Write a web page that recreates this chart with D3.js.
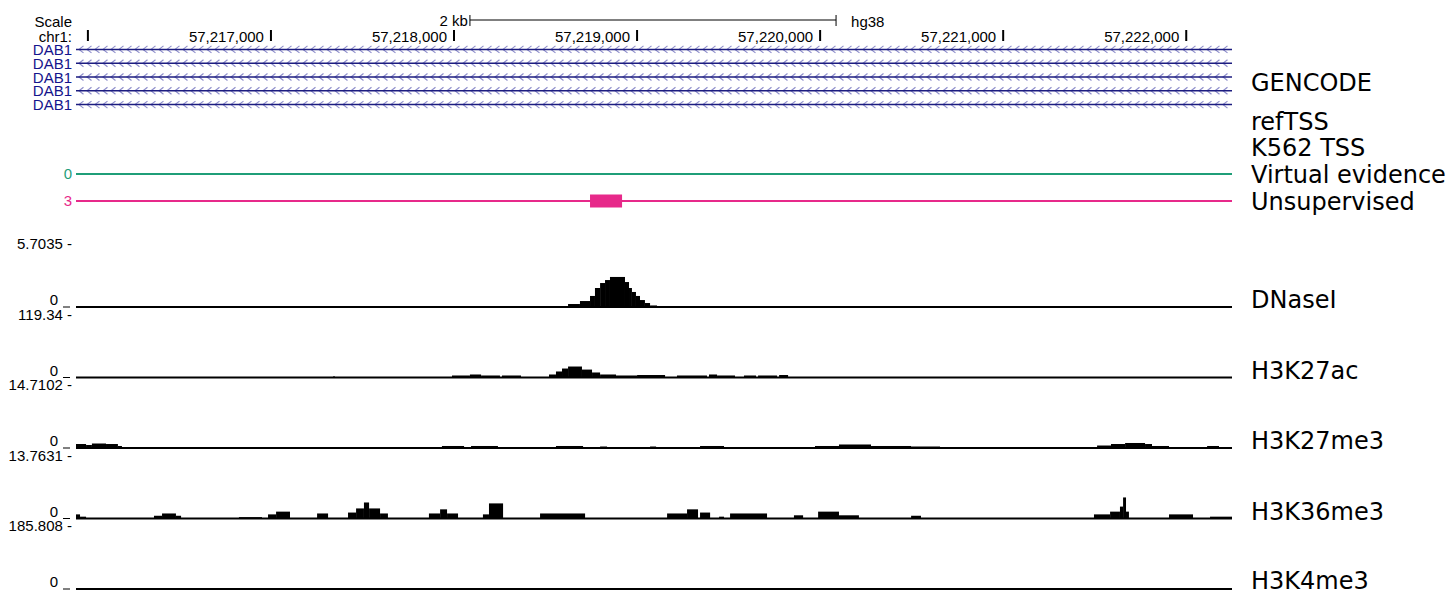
<!doctype html>
<html>
<head>
<meta charset="utf-8">
<title>DAB1 region, hg38</title>
<script src="https://d3js.org/d3.v7.min.js"></script>
<style>
body { margin: 0; background: #fff; }
svg text { font-family: "Liberation Sans", Arial, Helvetica, sans-serif; font-size: 15px; }
svg text.tracklabel { font-family: "DejaVu Sans", sans-serif; font-size: 24px; }
</style>
</head>
<body>
<svg id="browser"></svg>
<script>
// window shown (chr1, hg38)
var viewStart = 57215935, viewEnd = 57222250;

var rulerTicks = [57216000, 57217000, 57218000, 57219000, 57220000, 57221000, 57222000];
var rulerLabels = ["", "57,217,000", "57,218,000", "57,219,000", "57,220,000", "57,221,000", "57,222,000"];
var scaleBar = [57218087, 57220087];

var geneNames = ["DAB1", "DAB1", "DAB1", "DAB1", "DAB1"];

// feature tracks: features as [start, end] in bp from viewStart
var virtualEvidence = [];
var unsupervised = [[2808, 2983]];

// signal tracks: [start, end, value], start/end in bp from viewStart
var trackNames = ["DNaseI", "H3K27ac", "H3K27me3", "H3K36me3", "H3K4me3"];
var trackMax = [5.7035, 119.34, 14.7102, 13.7631, 185.808];
var trackMaxLabels = ["5.7035", "119.34", "14.7102", "13.7631", "185.808"];

var dnase = [[2606, 2688, 0.09], [2688, 2753, 0.27], [2753, 2808, 0.54], [2808, 2835, 1.0],
  [2835, 2863, 1.72], [2863, 2890, 2.17], [2890, 2917, 2.44], [2917, 2999, 2.72],
  [2999, 3021, 2.26], [3021, 3037, 1.72], [3037, 3059, 1.36], [3059, 3081, 1.0],
  [3081, 3108, 0.63], [3108, 3136, 0.36], [3136, 3174, 0.14]];

var h3k27ac = [[1404, 1415, 2], [2054, 2152, 3.8], [2152, 2213, 5.7], [2213, 2316, 3.8],
  [2327, 2431, 3.8], [2584, 2622, 5.7], [2622, 2655, 11.4], [2655, 2688, 17],
  [2688, 2764, 20.8], [2764, 2819, 15], [2819, 2863, 9.5], [2863, 2950, 5.7],
  [2950, 3065, 3.8], [3065, 3218, 4.7], [3283, 3447, 3.8], [3458, 3502, 5.7],
  [3502, 3600, 3.8], [3649, 3715, 3.8], [3726, 3830, 3.8], [3841, 3890, 4.7]];

var h3k27me3 = [[0, 55, 0.93], [55, 87, 0.7], [87, 164, 1.05], [164, 229, 0.93], [229, 251, 0.47],
  [1999, 2120, 0.47], [2158, 2305, 0.47], [2622, 2770, 0.47], [2863, 2901, 0.35],
  [3136, 3169, 0.35], [3409, 3540, 0.47], [4037, 4168, 0.47], [4168, 4343, 0.82],
  [4343, 4562, 0.47], [4562, 4720, 0.35], [5578, 5654, 0.58], [5654, 5731, 0.93],
  [5731, 5840, 1.17], [5840, 5878, 0.93], [5878, 5971, 0.47], [6179, 6244, 0.47]];

var h3k36me3 = [[0, 22, 0.9], [22, 55, 0.4], [426, 470, 0.6], [470, 546, 1.1], [546, 574, 0.6],
  [890, 1016, 0.3], [1049, 1093, 0.9], [1093, 1169, 1.5], [1317, 1377, 1.1],
  [1486, 1530, 1.3], [1530, 1573, 2.2], [1573, 1601, 3.5], [1601, 1661, 2.2], [1661, 1704, 1.1],
  [1928, 1989, 1.1], [1989, 2027, 2.0], [2027, 2087, 1.1], [2223, 2256, 0.9], [2256, 2333, 3.3],
  [2535, 2781, 1.1], [3229, 3338, 1.1], [3338, 3398, 2.0], [3409, 3464, 1.3], [3513, 3540, 0.4],
  [3573, 3775, 1.1], [3922, 3972, 0.7], [4054, 4168, 1.5], [4168, 4277, 0.7], [4562, 4616, 0.6],
  [5561, 5649, 0.9], [5649, 5703, 1.5], [5703, 5720, 2.6], [5720, 5736, 4.6], [5736, 5752, 1.5],
  [5971, 6102, 0.9], [6195, 6315, 0.4]];

var h3k4me3 = [];

var trackData = [dnase, h3k27ac, h3k27me3, h3k36me3, h3k4me3];

var width = 1453, height = 590,
    plotLeft = 76, plotRight = 1232, labelX = 1251, leftLabelX = 72;

var svg = d3.select("#browser")
    .attr("width", width)
    .attr("height", height)
    .style("display", "block");

var x = d3.scaleLinear()
    .domain([viewStart, viewEnd])
    .range([plotLeft, plotRight]);

// ---- ruler ----
var ruler = svg.append("g");
ruler.append("text").attr("x", leftLabelX).attr("y", 27).attr("text-anchor", "end").text("Scale");
ruler.append("text").attr("x", leftLabelX).attr("y", 42).attr("text-anchor", "end").text("chr1:");

ruler.append("line")
    .attr("x1", x(scaleBar[0])).attr("x2", x(scaleBar[1]))
    .attr("y1", 20).attr("y2", 20)
    .attr("stroke", "#000").attr("stroke-width", 1);
ruler.selectAll(".cap").data(scaleBar).enter().append("line")
    .attr("x1", d => x(d)).attr("x2", d => x(d))
    .attr("y1", 15).attr("y2", 26)
    .attr("stroke", "#000").attr("stroke-width", 1);
ruler.append("text").attr("x", x(scaleBar[0]) - 2).attr("y", 26).attr("text-anchor", "end").text("2 kb");
ruler.append("text").attr("x", x(scaleBar[1]) + 15).attr("y", 27).text("hg38");

var tick = ruler.selectAll(".rtick").data(rulerTicks).enter().append("g");
tick.append("line")
    .attr("x1", d => x(d)).attr("x2", d => x(d))
    .attr("y1", 30).attr("y2", 41)
    .attr("stroke", "#000").attr("stroke-width", 2);
tick.append("text")
    .attr("x", d => x(d) - 7).attr("y", 42)
    .attr("text-anchor", "end")
    .text((d, i) => rulerLabels[i]);

// ---- gene rows ----
var geneRow = d3.scaleBand().domain(d3.range(geneNames.length)).range([42.5, 111.5]);
var chevrons = d3.range(plotLeft + 5, plotRight, 8);

var genes = svg.selectAll(".gene").data(geneNames).enter().append("g")
    .attr("transform", (d, i) => `translate(0, ${geneRow(i) + geneRow.bandwidth() / 2})`);
genes.append("text")
    .attr("x", leftLabelX).attr("y", 5.5)
    .attr("text-anchor", "end")
    .attr("fill", "#14148c")
    .text(d => d);
genes.selectAll("path").data(chevrons).enter().append("path")
    .attr("d", d => `M${d + 2.5},-3.5 L${d - 2},0 L${d + 2.5},3.5`)
    .attr("fill", "none")
    .attr("stroke", "#8f8fcc")
    .attr("stroke-width", 1.2);
genes.append("line")
    .attr("x1", plotLeft).attr("x2", plotRight)
    .attr("y1", 0).attr("y2", 0)
    .attr("stroke", "#1c1c80").attr("stroke-width", 1.5);

// ---- right labels for annotation rows ----
var annotLabels = ["GENCODE", "refTSS", "K562 TSS"];
var annotY = [91, 130, 156];
svg.selectAll(".annot").data(annotLabels).enter().append("text")
    .attr("class", "tracklabel")
    .attr("x", labelX).attr("y", (d, i) => annotY[i])
    .text(d => d);

// ---- feature tracks ----
var featureTracks = [
  {name: "Virtual evidence", color: "#1f9e78", left: "0", y: 174, data: virtualEvidence},
  {name: "Unsupervised", color: "#e7298a", left: "3", y: 201, data: unsupervised}
];
featureTracks.forEach(function(t) {
    var g = svg.append("g");
    g.append("text").attr("x", leftLabelX).attr("y", t.y + 5)
        .attr("text-anchor", "end").attr("fill", t.color).text(t.left);
    g.append("line")
        .attr("x1", plotLeft).attr("x2", plotRight)
        .attr("y1", t.y).attr("y2", t.y)
        .attr("stroke", t.color).attr("stroke-width", 1.8);
    g.selectAll("rect").data(t.data).enter().append("rect")
        .attr("x", d => x(viewStart + d[0]))
        .attr("width", d => x(viewStart + d[1]) - x(viewStart + d[0]))
        .attr("y", t.y - 6.5).attr("height", 13)
        .attr("fill", t.color);
    g.append("text").attr("class", "tracklabel")
        .attr("x", labelX).attr("y", t.y + 9).text(t.name);
});

// ---- signal tracks ----
var trackTop = 244, trackStep = 70.5, trackHeight = 63;

trackNames.forEach(function(name, i) {
    var top = trackTop + i * trackStep, zero = top + trackHeight;
    var y = d3.scaleLinear().domain([0, trackMax[i]]).range([zero, top]);
    var g = svg.append("g");

    g.append("text").attr("x", leftLabelX).attr("y", top + 5)
        .attr("text-anchor", "end").text(trackMaxLabels[i] + " -");
    g.append("text").attr("x", 58).attr("y", zero - 2)
        .attr("text-anchor", "end").text("0");
    g.append("line").attr("x1", 63).attr("x2", 70)
        .attr("y1", zero).attr("y2", zero)
        .attr("stroke", "#000").attr("stroke-width", 1);

    g.selectAll("rect").data(trackData[i]).enter().append("rect")
        .attr("x", d => x(viewStart + d[0]))
        .attr("width", d => x(viewStart + d[1]) - x(viewStart + d[0]))
        .attr("y", d => y(d[2]))
        .attr("height", d => zero - y(d[2]))
        .attr("fill", "#000");
    g.append("rect")
        .attr("x", plotLeft).attr("width", plotRight - plotLeft)
        .attr("y", zero - 1).attr("height", 2)
        .attr("fill", "#000");

    g.append("text").attr("class", "tracklabel")
        .attr("x", labelX).attr("y", Math.min(zero + 1, height - 1)).text(name);
});
</script>
</body>
</html>
